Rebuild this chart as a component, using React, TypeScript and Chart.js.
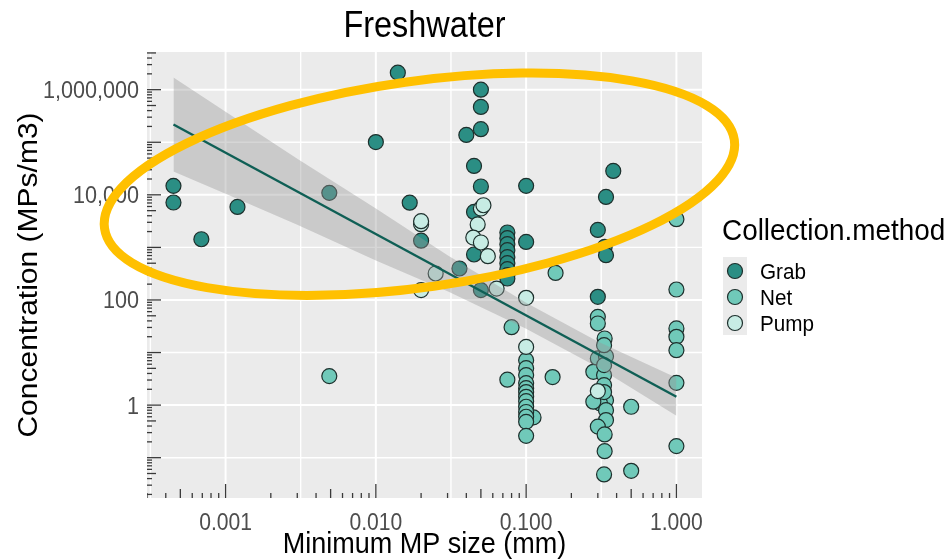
import React, { useEffect, useRef } from 'react';
import { Chart, registerables } from 'chart.js';

Chart.register(...registerables);

// ---- data -------------------------------------------------------------
const methods = ['Grab', 'Net', 'Pump'];
const methodColors = ['#2b8e84', '#70c9b9', '#c7ece4'];

const grabSize = [
  0.00045, 0.00045, 0.00069, 0.0012, 0.0049, 0.01, 0.014, 0.0168, 0.02,
  0.05, 0.05, 0.05, 0.04, 0.045, 0.05, 0.1, 0.045, 0.045, 0.036, 0.05,
  0.075, 0.075, 0.075, 0.075, 0.075, 0.075, 0.075, 0.075, 0.075,
  0.1, 0.34, 0.38, 0.3, 0.333, 0.34, 0.3,
];
const grabConc = [
  14800, 7140, 1430, 5890, 10900, 101000, 2110000, 7080, 1340,
  1000000, 469000, 177000, 138000, 35400, 14400, 14800, 4730, 733, 397, 154,
  1920, 1500, 1150, 885, 651, 501, 385, 296, 256,
  1270, 9120, 28500, 2150, 1020, 711, 115,
];

const netSize = [
  0.0049, 0.157, 1, 1, 1, 1, 1, 1, 1, 0.08, 0.075, 0.15, 0.112,
  0.1, 0.1, 0.1, 0.1, 0.1, 0.1, 0.1, 0.1, 0.1, 0.1, 0.1, 0.1, 0.1,
  0.3, 0.3, 0.333, 0.3, 0.34, 0.28, 0.33, 0.34, 0.31, 0.28, 0.34, 0.34,
  0.3, 0.333, 0.333, 0.33, 0.5, 0.5, 0.33, 0.33, 0.33, 0.33,
];
const netConc = [
  3.56, 327, 3440, 158, 28.7, 19.9, 11.1, 2.65, 0.166, 30.4, 3.05, 3.41, 0.584,
  7.17, 5.05, 3.72, 2.62, 2.1, 1.77, 1.44, 1.19, 0.93, 0.74, 0.6, 0.48, 0.26,
  47.7, 35.7, 18.5, 7.72, 8.5, 4.3, 3.72, 1.24, 1.08, 1.16, 0.8, 0.52,
  0.39, 0.277, 0.133, 0.048, 0.93, 0.0563, 13.8, 5.76, 2.4, 1.77,
];

const pumpSize = [0.02, 0.02, 0.025, 0.02, 0.05, 0.052, 0.0476, 0.0445, 0.05, 0.0556, 0.0636, 0.1, 0.1, 0.3];
const pumpConc = [2760, 3150, 319, 154, 5490, 6340, 2730, 1540, 1240, 680, 165, 110, 12.8, 1.85];

// fitted trend and its confidence band
const fitSize = [0.00045, 1.0];
const fitConc = [218000, 1.44];
const bandSize = [0.00045, 0.001, 0.003, 0.01, 0.03, 0.1, 0.3, 1.0];
const bandUpper = [1700000, 380000, 48800, 5500, 708, 88.9, 16.3, 3.3];
const bandLower = [27700, 10500, 2710, 564, 146, 28.5, 5.23, 0.626];

// axes
const xMin = 0.000303;
const xMax = 1.48;
const yMin = 0.0171;
const yMax = 5210000;
const xTickValues = [0.001, 0.01, 0.1, 1];
const xTickLabels = ['0.001', '0.010', '0.100', '1.000'];
const xMinorGrid = [0.000316, 0.00316, 0.0316, 0.316];
const yTickValues = [1, 100, 10000, 1000000];
const yTickLabels = ['1', '100', '10,000', '1,000,000'];
const yMinorGrid = [0.1, 10, 1000, 100000];

// highlight ring, centred on a point in data space
const ringCenter = { x: 0.0195, y: 15900 };

const FONT = '"Liberation Sans", Arial, Helvetica, sans-serif';

function zip(xs: number[], ys: number[]) {
  return xs.map((x, i) => ({ x, y: ys[i] }));
}

function drawText(
  ctx: CanvasRenderingContext2D,
  text: string,
  x: number,
  y: number,
  size: number,
  color: string,
  align: CanvasTextAlign,
  sx: number,
  rotate = 0
) {
  ctx.save();
  ctx.translate(x, y);
  if (rotate) ctx.rotate(rotate);
  if (rotate) ctx.scale(1, sx);
  else ctx.scale(sx, 1);
  ctx.font = `${size}px ${FONT}`;
  ctx.fillStyle = color;
  ctx.textAlign = align;
  ctx.textBaseline = 'alphabetic';
  ctx.fillText(text, 0, 0);
  ctx.restore();
}

const panelPlugin = {
  id: 'panelBackground',
  beforeDatasetsDraw(chart: any) {
    const { ctx, chartArea: a, scales } = chart;
    const xs = scales.x;
    const ys = scales.y;
    ctx.save();
    ctx.fillStyle = '#ebebeb';
    ctx.fillRect(a.left, a.top, a.right - a.left, a.bottom - a.top);
    ctx.beginPath();
    ctx.rect(a.left, a.top, a.right - a.left, a.bottom - a.top);
    ctx.clip();
    ctx.strokeStyle = '#ffffff';
    const vline = (v: number, w: number) => {
      const p = xs.getPixelForValue(v);
      ctx.lineWidth = w;
      ctx.beginPath();
      ctx.moveTo(p, a.top);
      ctx.lineTo(p, a.bottom);
      ctx.stroke();
    };
    const hline = (v: number, w: number) => {
      const p = ys.getPixelForValue(v);
      ctx.lineWidth = w;
      ctx.beginPath();
      ctx.moveTo(a.left, p);
      ctx.lineTo(a.right, p);
      ctx.stroke();
    };
    xMinorGrid.forEach((v) => vline(v, 1.4));
    yMinorGrid.forEach((v) => hline(v, 1.4));
    xTickValues.forEach((v) => vline(v, 2));
    yTickValues.forEach((v) => hline(v, 2));

    // logarithmic tick marks along bottom and left edges
    ctx.strokeStyle = '#3a3a3a';
    ctx.lineWidth = 1.3;
    const len = (m: number) => (m === 1 ? 14 : m === 5 ? 9 : 5);
    for (let e = -4; e <= 0; e++) {
      for (let m = 1; m <= 9; m++) {
        const v = m * Math.pow(10, e);
        if (v < xs.min || v > xs.max) continue;
        const p = xs.getPixelForValue(v);
        ctx.beginPath();
        ctx.moveTo(p, a.bottom);
        ctx.lineTo(p, a.bottom - len(m));
        ctx.stroke();
      }
    }
    for (let e = -2; e <= 6; e++) {
      for (let m = 1; m <= 9; m++) {
        const v = m * Math.pow(10, e);
        if (v < ys.min || v > ys.max) continue;
        const p = ys.getPixelForValue(v);
        ctx.beginPath();
        ctx.moveTo(a.left, p);
        ctx.lineTo(a.left + len(m), p);
        ctx.stroke();
      }
    }
    ctx.restore();
  },
};

const decorPlugin = {
  id: 'decorations',
  afterDraw(chart: any) {
    const { ctx, chartArea: a, scales } = chart;
    const xs = scales.x;
    const ys = scales.y;
    const cx = (a.left + a.right) / 2;

    // tick labels
    xTickValues.forEach((v, i) => {
      drawText(ctx, xTickLabels[i], xs.getPixelForValue(v), 530, 24, '#4d4d4d', 'center', 0.88);
    });
    yTickValues.forEach((v, i) => {
      drawText(ctx, yTickLabels[i], 139, ys.getPixelForValue(v) + 8.5, 24, '#4d4d4d', 'right', 0.9);
    });

    // titles
    drawText(ctx, 'Freshwater', cx, 37, 36, '#000000', 'center', 0.9);
    drawText(ctx, 'Minimum MP size (mm)', cx, 553, 30, '#000000', 'center', 0.9);
    drawText(ctx, 'Concentration (MPs/m3)', 37, (a.top + a.bottom) / 2, 30, '#000000', 'center', 0.9, -Math.PI / 2);

    // legend
    drawText(ctx, 'Collection.method', 722, 240, 30, '#000000', 'left', 0.93);
    ctx.save();
    ctx.fillStyle = '#ebebeb';
    ctx.fillRect(723, 257, 24, 78);
    ctx.restore();
    methods.forEach((m, i) => {
      const y = 271 + i * 26;
      ctx.save();
      ctx.beginPath();
      ctx.arc(735, y, 7.5, 0, Math.PI * 2);
      ctx.fillStyle = methodColors[i];
      ctx.fill();
      ctx.lineWidth = 1.2;
      ctx.strokeStyle = '#1d2f2c';
      ctx.stroke();
      ctx.restore();
      drawText(ctx, m, 760, y + 8, 22, '#000000', 'left', 0.94);
    });

    // highlight ring
    ctx.save();
    ctx.beginPath();
    ctx.ellipse(
      xs.getPixelForValue(ringCenter.x),
      ys.getPixelForValue(ringCenter.y),
      318,
      103,
      (-8 * Math.PI) / 180,
      0,
      Math.PI * 2
    );
    ctx.strokeStyle = '#ffc000';
    ctx.lineWidth = 9;
    ctx.stroke();
    ctx.restore();
  },
};

const pointStyle = (i: number) => ({
  backgroundColor: methodColors[i],
  borderColor: '#1d2f2c',
  borderWidth: 1.2,
  pointRadius: 7.5,
});

export default function App() {
  const canvasRef = useRef<HTMLCanvasElement | null>(null);

  useEffect(() => {
    document.body.style.margin = '0';
    const canvas = canvasRef.current;
    if (!canvas) return;
    const chart = new Chart(canvas, {
      type: 'scatter',
      data: {
        datasets: [
          {
            type: 'line',
            label: 'fit',
            data: zip(fitSize, fitConc),
            borderColor: '#0f5f55',
            borderWidth: 2.4,
            pointRadius: 0,
            fill: false,
            order: 0,
          } as any,
          {
            type: 'line',
            label: 'upper',
            data: zip(bandSize, bandUpper),
            borderWidth: 0,
            borderColor: 'rgba(0,0,0,0)',
            pointRadius: 0,
            backgroundColor: 'rgba(153,153,153,0.4)',
            fill: '+1',
            order: 1,
          } as any,
          {
            type: 'line',
            label: 'lower',
            data: zip(bandSize, bandLower),
            borderWidth: 0,
            borderColor: 'rgba(0,0,0,0)',
            pointRadius: 0,
            fill: false,
            order: 1,
          } as any,
          { label: 'Pump', data: zip(pumpSize, pumpConc), ...pointStyle(2), order: 2 },
          { label: 'Net', data: zip(netSize, netConc), ...pointStyle(1), order: 3 },
          { label: 'Grab', data: zip(grabSize, grabConc), ...pointStyle(0), order: 4 },
        ],
      },
      options: {
        animation: false,
        responsive: true,
        maintainAspectRatio: false,
        events: [],
        layout: { padding: { left: 147, top: 52, right: 246, bottom: 61 } },
        plugins: {
          legend: { display: false },
          title: { display: false },
          tooltip: { enabled: false },
        },
        scales: {
          x: { type: 'logarithmic', min: xMin, max: xMax, display: false },
          y: { type: 'logarithmic', min: yMin, max: yMax, display: false },
        },
      },
      plugins: [panelPlugin, decorPlugin],
    });
    return () => chart.destroy();
  }, []);

  return (
    <div style={{ width: 948, height: 559, position: 'relative', background: '#ffffff' }}>
      <canvas ref={canvasRef} />
    </div>
  );
}
